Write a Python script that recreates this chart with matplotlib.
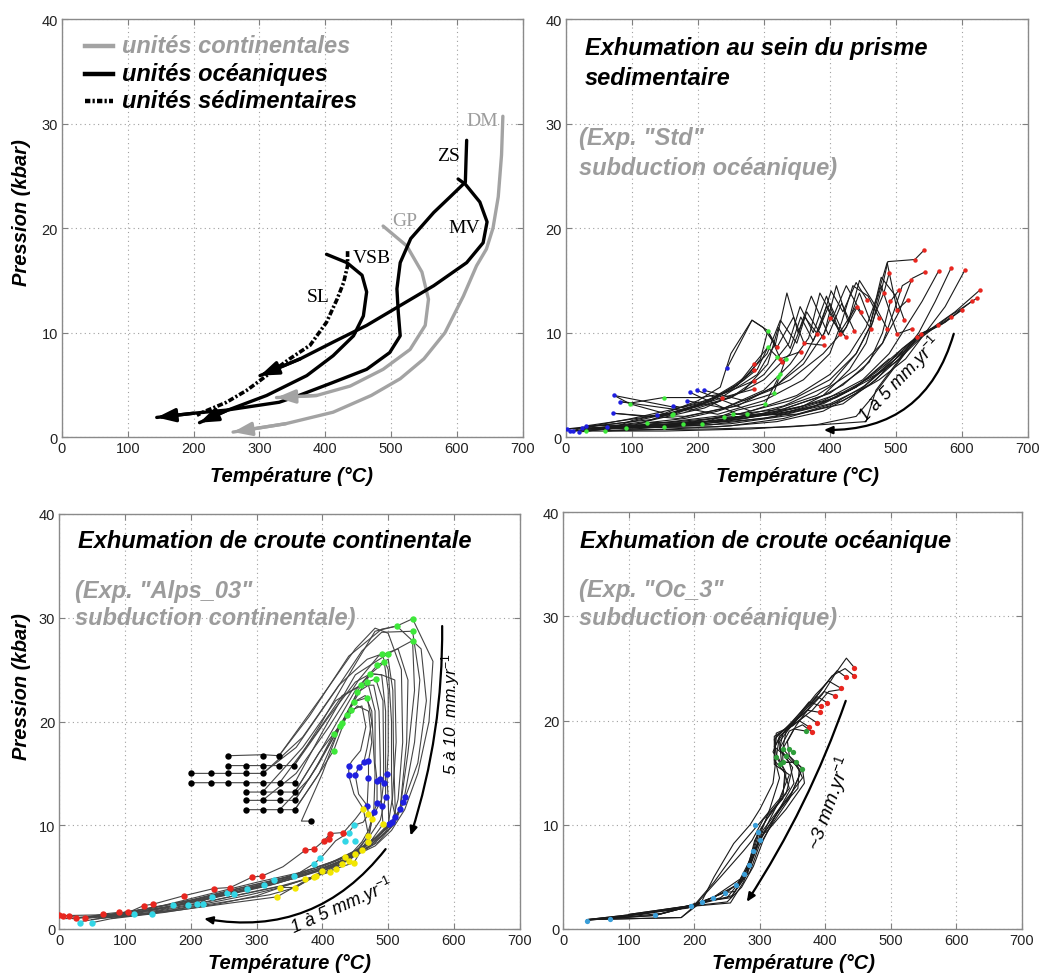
import matplotlib
matplotlib.use('Agg')
import matplotlib.pyplot as plt
from matplotlib.patches import FancyArrowPatch

plt.rcParams['font.family'] = ['Liberation Sans', 'DejaVu Sans']
plt.rcParams['mathtext.fontset'] = 'custom'
plt.rcParams['mathtext.rm'] = 'Liberation Sans'
plt.rcParams['mathtext.it'] = 'Liberation Sans:italic'

# ---------------- axes / ticks ----------------
x_ticks = [0, 100, 200, 300, 400, 500, 600, 700]
y_ticks = [0, 10, 20, 30, 40]

# ---------------- panel A : natural P-T paths ----------------
tl_DM_T = [670, 668, 663, 655, 645, 630, 610, 582, 550, 514, 470, 412, 340, 260]
tl_DM_P = [30.7, 27, 23, 20, 18, 16.4, 13.5, 10, 7.5, 5.6, 4.0, 2.4, 1.3, 0.5]
tl_GP_T = [488, 524, 547, 557, 552, 529, 488, 438, 387, 326]
tl_GP_P = [20.2, 18.3, 15.8, 13.2, 10.7, 8.4, 6.5, 4.9, 4.0, 3.8]
tl_ZS_T = [615, 614, 613, 590, 565, 530, 514, 509, 511, 514, 498, 463, 410, 360, 330, 250, 200, 144]
tl_ZS_P = [28.4, 26.5, 24.4, 23.0, 21.5, 19.0, 16.7, 14.2, 12.0, 9.7, 8.1, 6.5, 5.2, 4.0, 3.35, 2.6, 2.3, 1.9]
tl_MV_T = [602, 613, 635, 646, 640, 615, 565, 514, 463, 412, 362, 301]
tl_MV_P = [24.7, 24.2, 22.5, 20.6, 18.6, 16.7, 14.5, 12.6, 10.7, 9.1, 7.5, 5.9]
tl_SL_T = [402, 433, 456, 463, 458, 443, 412, 372, 311, 250, 209]
tl_SL_P = [17.5, 16.7, 15.5, 13.9, 11.6, 9.7, 7.8, 5.9, 4.0, 2.55, 1.4]
tl_VSB_T = [434, 434, 428, 418, 402, 377, 346, 311, 281, 250, 214, 205]
tl_VSB_P = [17.8, 16.4, 14.8, 13.2, 11.0, 8.8, 7.5, 5.9, 4.5, 3.35, 2.4, 2.1]
tl_labels = ['DM', 'ZS', 'GP', 'MV', 'VSB', 'SL']
tl_label_T = [638, 587, 521, 612, 471, 390]
tl_label_P = [30.3, 26.9, 20.7, 20.1, 17.2, 13.5]
tl_label_gray = [True, False, True, False, False, False]
legend_labels = ['unités continentales', 'unités océaniques', 'unités sédimentaires']

# ---------------- panel B : sedimentary prism ----------------
tr_paths = [
    [(543,17.9),(529,17.0),(488,16.8),(480,14.5),(465,11),(440,8),(400,5),(330,3),(250,1.8),(150,1.1),(30,0.8)],
    [(544,15.8),(525,15.2),(505,12),(480,9),(440,6.5),(380,4),(300,2.3),(200,1.4),(80,0.9),(6,0.6)],
    [(565,15.9),(540,13),(515,10.5),(490,8),(450,5.5),(390,3.5),(310,2.2),(210,1.3),(100,0.9),(11,0.6)],
    [(584,16.2),(560,13),(535,10),(505,7.5),(460,5),(400,3.2),(320,2),(220,1.2),(110,0.9),(24,0.9)],
    [(605,16.0),(575,12.5),(545,10),(515,7.5),(475,5.5),(420,3.5),(350,2.2),(250,1.3),(148,1.0)],
    [(628,14.1),(590,12),(545,10),(510,8),(470,6),(420,4.3),(350,2.8),(270,1.8),(178,1.3),(62,1.0)],
    [(623,13.3),(580,11.5),(540,9.6),(500,7.2),(460,5.5),(410,3.8),(340,2.5),(240,1.5),(123,1.4)],
    [(615,13.0),(575,11),(538,9.9),(500,7.5),(455,5),(400,3),(330,1.8),(250,1.1),(160,0.8),(59,0.6)],
    [(601,12.2),(570,10.8),(533,9.6),(505,8),(470,6.2),(430,4.5),(370,2.8),(300,1.8),(206,1.3),(31,1.1)],
    [(584,11.5),(560,10.5),(533,9.6),(505,8.2),(475,6.6),(440,4.8),(390,3.2),(320,2.2),(239,1.9),(150,1.4),(31,0.6)],
    [(564,10.7),(538,9.9),(510,8.5),(480,6.5),(440,4.2),(390,2.5),(320,1.5),(230,1.0),(91,0.9)],
    [(523,15.0),(510,14.5),(497,12),(480,9),(450,6.5),(400,4.2),(330,2.7),(254,2.2),(160,1.5),(19,0.5)],
    [(490,15.7),(482,13.8),(470,12),(455,9),(430,6.5),(390,4),(320,2.5),(230,1.6),(140,1.2),(1,0.8)],
    [(505,14.1),(492,13.0),(480,10),(460,7.2),(420,5),(360,3),(280,2),(190,1.3),(90,0.9)],
    [(518,13.1),(502,12.2),(487,16.7),(472,13.5),(455,10.5),(430,8),(400,6),(350,4),(280,2.5),(198,4.5)],
    [(513,11.2),(500,13.5),(478,15.3),(462,11),(445,13.8),(425,10.5),(390,8),(340,5.5),(270,3.5),(209,4.5)],
    [(525,10.4),(502,9.9),(478,14.5),(460,10.5),(440,8),(400,5.5),(340,3.5),(260,2.2),(188,4.3)],
    [(487,10.4),(465,13),(445,15),(428,11),(410,14.5),(392,10),(360,7),(310,4.5),(240,2.8),(183,3.5)],
    [(475,11.4),(458,13.5),(435,14.5),(418,11),(400,8),(360,5.5),(300,3.5),(230,2.2),(163,3.0)],
    [(457,13.1),(440,14.8),(420,12),(402,14),(385,10.5),(360,7.5),(320,5),(260,3),(180,2),(138,2.1)],
    [(447,12.0),(425,14.5),(405,11.5),(385,13.8),(368,9.5),(340,7),(300,4.5),(240,2.8),(170,1.8),(72,2.3)],
    [(462,10.4),(440,12.5),(415,10),(395,13.5),(375,10),(355,12.5),(338,9),(300,6),(250,3.8),(185,2.5),(82,3.4)],
    [(437,10.2),(418,12.8),(398,9.8),(372,13.5),(352,10),(335,13.8),(318,9),(290,6),(240,4),(170,2.8),(73,4.0)],
    [(442,12.5),(420,10),(400,12.8),(381,9.9),(362,11.5),(340,8),(300,5.5),(250,3.8),(180,2.6),(100,1.5),(24,0.9)],
    [(416,9.9),(395,12.5),(375,9.2),(356,11.5),(340,8.5),(322,10.5),(306,7),(270,4.5),(210,2.8),(120,1.5),(11,0.6)],
    [(424,9.6),(401,11.4),(389,9.6),(365,12),(350,9),(325,11.2),(305,8),(260,5),(200,3),(130,1.7),(1,0.8)],
    [(391,8.8),(361,9.0),(345,11.5),(320,8.6),(306,10.2),(295,7.5),(270,5.5),(220,3.5),(150,2.2),(31,1.1)],
    [(356,8.2),(325,7.5),(306,10.2),(299,10.5),(282,11.2),(244,6.6)],
    [(320,8.6),(299,10.5),(282,11.2),(250,8),(234,4.8),(200,3.5),(150,2.3),(100,1.6),(59,0.6)],
    [(328,7.2),(306,8.6),(285,7.0),(260,5),(220,3.5),(160,2.3),(91,0.9)],
    [(285,5.4),(240,4.2),(205,3.8),(148,3.8),(100,3.3),(82,3.4)],
    [(285,4.6),(237,3.8),(200,3.0),(160,2.3),(120,2.0),(72,2.3)],
    [(333,7.5),(315,4.2),(280,3.5),(230,2.5),(180,1.8),(123,1.4),(62,1.0)],
    [(325,6.1),(302,3.2),(260,2.6),(206,1.3),(148,1.0),(59,0.6)],
    [(533,9.6),(490,6),(460,3.5),(440,2),(380,1.2),(280,0.8),(150,0.6),(30,0.6)],
    [(538,9.9),(500,7),(470,4.5),(455,1.5),(340,1),(220,0.8),(90,0.7)],
    [(510,8.2),(470,5.5),(420,3.2),(350,2.2),(275,2.2),(254,2.2),(178,1.3),(100,1.0)],
    [(490,7.5),(440,4.8),(380,3),(320,2.2),(239,1.9),(160,1.3),(40,0.9)],
    [(285,6.4),(255,5),(210,3.3),(160,2.1),(97,3.2),(73,4.0)],
    [(306,8.6),(290,6.5),(250,4.5),(200,3.2),(150,2.5),(100,1.8),(50,1.2),(6,0.6)],
]
tr_red = [(543,17.9),(529,17.0),(544,15.8),(565,15.9),(584,16.2),(605,16.0),(628,14.1),(623,13.3),
          (615,13.0),(601,12.2),(584,11.5),(564,10.7),(538,9.9),(533,9.6),(490,15.7),(482,13.8),
          (492,13.0),(505,14.1),(518,13.1),(523,15.0),(502,12.2),(513,11.2),(525,10.4),(502,9.9),
          (487,10.4),(475,11.4),(457,13.1),(447,12.0),(462,10.4),(437,10.2),(442,12.5),(416,9.9),
          (424,9.6),(401,11.4),(381,9.9),(389,9.6),(391,8.8),(361,9.0),(356,8.2),(325,7.5),
          (320,8.6),(328,7.2),(285,7.0),(285,6.4),(285,5.4),(285,4.6),(237,3.8)]
tr_green = [(306,10.2),(306,8.6),(320,7.7),(333,7.5),(325,6.1),(322,5.8),(315,4.2),(302,3.2),
            (254,2.2),(275,2.2),(239,1.9),(206,1.3),(178,1.3),(148,1.0),(163,2.2),(160,2.1),
            (148,3.8),(123,1.4),(97,3.2),(91,0.9),(59,0.6),(31,0.6)]
tr_blue = [(1,0.8),(6,0.6),(11,0.6),(19,0.5),(24,0.9),(31,1.1),(62,1.0),(72,2.3),(73,4.0),
           (82,3.4),(138,2.1),(163,3.0),(183,3.5),(188,4.3),(198,4.5),(209,4.5),(244,6.6)]

# ---------------- panel C : continental crust ----------------
bl_paths = [
    [(256,16.7),(310,16.8),(334,16.7),(380,20.5),(440,26.3),(490,28.9),(513,29.2),(537,29.9),(568,25.8),(562,20),(545,15),(525,11.5),(505,9.5),(480,8),(440,6.8),(390,5.6),(330,4.6),(260,3.6),(190,2.6),(120,1.8),(60,1.2),(10,1.0)],
    [(257,15.75),(284,15.75),(310,15.75),(334,15.75),(357,15.75),(395,19.5),(445,25),(480,28.7),(513,29.2),(550,27),(558,22),(545,16),(526,12.7),(510,10.2),(485,8.4),(448,7.0),(400,5.9),(340,4.9),(270,3.9),(200,2.8),(130,1.9),(67,1.3),(20,1.0)],
    [(200,15.0),(231,15.0),(257,15.0),(284,15.0),(309,15.0),(360,17.5),(420,23),(460,26.8),(490,28.6),(537,28.7),(548,24),(540,18),(523,12.2),(506,9.9),(478,8.2),(440,6.9),(395,5.7),(335,4.6),(265,3.5),(196,2.5),(128,1.7),(60,1.1)],
    [(200,14.1),(231,14.1),(257,14.1),(284,14.1),(309,14.1),(335,14.1),(358,14.1),(400,19),(450,24.5),(499,26.5),(537,27.8),(540,23),(530,17),(518,11.6),(501,9.6),(470,7.9),(430,6.6),(387,5.5),(331,4.4),(260,3.4),(190,2.4),(120,1.6),(49,0.9)],
    [(284,13.2),(309,13.2),(335,13.2),(358,13.2),(400,17.5),(450,23),(483,25.4),(500,26),(507,23),(508,17),(511,10.8),(495,9.3),(465,7.7),(420,6.2),(374,5.2),(320,4.2),(250,3.2),(180,2.3),(105,1.5),(39,1.0)],
    [(284,12.4),(309,12.4),(335,12.4),(358,12.4),(395,16),(440,21.1),(473,24.6),(494,25.7),(500,23),(500,17),(498,14.9),(500,12.4),(501,10.1),(488,9.2),(460,7.6),(412,5.9),(359,4.9),(300,4.0),(232,3.1),(170,2.2),(100,1.4),(31,0.7)],
    [(284,11.5),(309,11.5),(335,11.5),(358,11.5),(390,14.5),(417,17.2),(437,20.6),(458,23.5),(478,23.5),(486,21),(488,16),(488,14.5),(490,11.9),(492,10.1),(475,8.6),(450,7.2),(412,5.5),(374,4.8),(336,4.0),(290,3.3),(219,2.4),(141,1.5),(60,1.0)],
    [(383,10.4),(368,10.4),(400,15),(427,19.6),(453,22.8),(470,23.5),(480,21),(480,16),(483,14.3),(483,12.1),(478,11.3),(470,9.0),(450,7.2),(400,5.6),(331,3.1),(260,2.5),(180,1.8),(100,1.2),(26,1.1)],
    [(335,14.1),(390,18.8),(430,22.5),(468,23.8),(481,24.1),(492,22),(493,16),(493,14.1),(490,12.5),(475,10.6),(470,9.5),(460,8.4),(430,6.3),(390,5.1),(340,4.2),(280,3.4),(210,2.4),(140,1.6),(70,1.1)],
    [(358,13.2),(395,17),(430,19.9),(448,21.9),(468,22.3),(475,20),(468,17.5),(463,16.1),(455,15.6),(450,14.8),(455,13),(468,11.9),(470,11.1),(462,10.3),(448,10.0),(440,9.3),(420,8.5),(397,6.8),(387,6.3),(357,5.1),(326,4.7),(311,4.2),(285,3.9),(265,3.4),(232,3.1),(209,2.4),(173,2.3),(141,1.45),(113,1.45),(49,0.6)],
    [(358,12.4),(390,15.5),(417,18.8),(443,21.1),(460,21.5),(466,19.5),(458,17.2),(445,16.2),(440,15.7),(440,14.8),(448,13),(462,11.6),(450,10.6),(432,9.3),(412,9.2),(402,8.5),(387,7.7),(374,7.6),(340,6.0),(308,5.1),(293,5.0),(260,4.0),(235,3.9),(189,3.2),(143,2.4),(128,2.25),(105,1.6),(90,1.6),(67,1.45),(39,1.1),(26,1.1),(14,1.3),(6,1.3),(0,1.35)],
    [(335,11.5),(380,14.5),(430,19.9),(453,21.5),(470,21),(475,18),(470,16.2),(470,14.6),(468,11.9),(462,11.6),(470,9),(455,7.8),(430,6.3),(400,5.6),(359,4.0),(336,4.0),(300,3.2),(240,2.4),(160,1.6),(80,1.0)],
    [(358,11.5),(395,15),(427,19.6),(448,21.9),(465,22.5),(475,21),(478,17),(480,15),(478,11.3),(475,10.6),(470,8.4),(460,7.6),(440,6.6),(400,5.6),(387,5.0),(359,4.0),(320,3.3),(250,2.6),(170,1.8),(90,1.2)],
    [(309,12.4),(360,15),(410,19.5),(455,24),(485,26.3),(515,27),(530,24),(528,18),(518,11.6),(505,10.3),(480,8.6),(445,7.2),(400,6.1),(345,5),(280,4),(210,2.9),(140,2.0),(70,1.3)],
    [(334,16.7),(400,22.5),(450,27),(480,29),(500,28.5),(520,25),(522,18),(515,12.5),(506,10.3),(490,9.2),(460,7.9),(420,6.6),(370,5.5),(300,4.5),(230,3.4),(160,2.3),(90,1.5),(26,1.1)],
    [(309,13.2),(370,17.5),(420,22),(458,23.5),(473,24.6),(490,24.5),(496,21),(496,13.5),(496,12.7),(488,10.5),(470,8.8),(448,6.4),(420,5.8),(390,5.1),(350,4.3),(290,3.5),(220,2.6),(150,1.8),(80,1.2)],
    [(310,15.0),(370,18.5),(425,23.5),(468,26),(490,26.5),(500,25),(505,20),(505,14.9),(506,12.5),(500,10.1),(480,8.8),(450,7.5),(412,6.4),(360,5.3),(300,4.2),(230,3.1),(160,2.1),(90,1.4),(14,1.3)],
    [(357,15.75),(410,20.5),(450,23.8),(473,24.6),(490,24.5),(510,24.0),(512,18),(506,12.2),(511,10.8),(500,9.8),(470,8.2),(435,6.9),(392,5.8),(348,4.9),(290,3.9),(220,2.8),(150,1.9),(80,1.3)],
]
bl_black = [(256,16.7),(310,16.7),(334,16.7),(257,15.75),(284,15.75),(310,15.75),(334,15.75),(357,15.75),
            (200,15.0),(231,15.0),(257,15.0),(284,15.0),(309,15.0),(200,14.1),(231,14.1),(257,14.1),
            (284,14.1),(309,14.1),(335,14.1),(358,14.1),(284,13.2),(309,13.2),(335,13.2),(358,13.2),
            (284,12.4),(309,12.4),(335,12.4),(358,12.4),(284,11.5),(309,11.5),(335,11.5),(358,11.5),(383,10.4)]
bl_green = [(537,29.9),(513,29.2),(537,28.7),(537,27.8),(490,26.5),(499,26.5),(494,25.7),(483,25.4),
            (473,24.6),(481,24.1),(468,23.8),(458,23.5),(453,22.8),(468,22.3),(448,21.9),(443,21.1),
            (437,20.6),(430,19.9),(427,19.6),(417,18.8),(417,17.2)]
bl_blue = [(440,15.7),(455,15.6),(463,16.1),(470,16.2),(440,14.8),(450,14.8),(470,14.6),(483,14.3),
           (488,14.5),(498,14.9),(493,14.1),(496,12.7),(490,11.9),(468,11.9),(483,12.1),(478,11.3),
           (526,12.7),(523,12.2),(518,11.6),(511,10.8),(506,10.3),(501,10.1)]
bl_yellow = [(462,11.6),(470,11.1),(475,10.6),(492,10.1),(470,9.0),(470,8.4),(460,7.6),(450,7.2),
             (440,6.6),(430,6.3),(420,5.8),(412,5.5),(400,5.6),(387,5.0),(374,4.8),(359,4.0),
             (336,4.0),(331,3.1),(390,5.1),(448,6.4),(435,6.9)]
bl_cyan = [(448,10.0),(440,9.3),(450,8.5),(435,8.5),(397,6.8),(387,6.3),(357,5.1),(326,4.7),
           (311,4.2),(285,3.9),(265,3.4),(255,3.5),(232,3.1),(219,2.4),(209,2.4),(196,2.3),
           (173,2.3),(141,1.45),(113,1.45),(49,0.6),(31,0.6)]
bl_red = [(0,1.35),(6,1.3),(14,1.3),(26,1.1),(39,1.1),(67,1.45),(90,1.6),(105,1.6),(128,2.25),
          (143,2.4),(189,3.2),(235,3.9),(260,4.0),(293,5.0),(308,5.1),(374,7.6),(387,7.7),
          (402,8.5),(410,8.7),(412,9.2),(432,9.3)]

# ---------------- panel D : oceanic crust ----------------
br_paths = [
    [(444,25.1),(432,26.0),(415,24.5),(395,22.5),(370,20.8),(345,19.6),(325,18.5),(322,16.5),(330,14.5),(315,11.5),(300,9),(290,7),(275,4.5),(255,2.5),(200,2.2),(120,1.4),(36,0.9)],
    [(444,24.3),(430,25),(410,24.3),(390,22.6),(365,21),(340,19.3),(322,18.2),(325,16.8),(340,15),(335,13),(315,10.5),(297,8),(282,5.5),(262,3.6),(246,3.5),(200,2.3),(140,1.3),(40,0.9)],
    [(431,24.2),(418,24.8),(400,23.5),(380,21.8),(355,20),(335,18.7),(330,17.3),(345,16),(352,14),(325,11),(305,8.5),(290,6),(272,4),(250,2.6),(195,2.2),(71,1.0)],
    [(424,23.1),(405,23.8),(385,22.5),(360,20.5),(340,19),(335,17.3),(350,16.2),(362,15),(345,12.5),(318,10),(299,8),(285,5.5),(264,4.2),(228,3.0),(180,2.0),(100,1.3),(36,0.8)],
    [(414,22.4),(398,22.8),(378,21.5),(355,19.5),(342,18),(345,16.6),(365,15.4),(368,14),(340,11.5),(310,9.3),(297,9.3),(289,7.5),(275,5),(250,3),(211,2.6),(180,1.1),(36,0.9)],
    [(403,21.7),(388,22.3),(368,21),(348,19.5),(330,18),(333,16),(355,16.0),(365,14.5),(335,12),(305,9.5),(284,6.1),(264,4.2),(246,3.5),(195,2.2),(140,1.3),(71,1.0)],
    [(393,21.4),(375,21.8),(358,20.5),(338,19),(322,17.5),(335,16.8),(350,15.5),(340,13),(310,10.5),(292,8.5),(282,6),(268,4.5),(240,3),(200,2.3),(100,1.4)],
    [(391,20.8),(372,21),(352,19.8),(330,18.5),(320,17),(335,15.5),(345,13.5),(320,11.5),(300,9.5),(288,7),(270,4.8),(228,3.0),(190,2.0),(36,0.9)],
    [(387,19.8),(370,20.5),(350,19.5),(325,18.8),(322,16.2),(338,15),(335,12.5),(305,10.5),(288,8.5),(275,7.5),(240,5),(200,2.2),(180,1.1),(40,0.9)],
    [(375,19.4),(360,20),(340,19.2),(322,18.5),(322,15.8),(345,14.8),(330,12.5),(300,10.2),(270,8),(230,4.5),(200,2.3),(120,1.5),(36,0.9)],
    [(380,18.9),(365,19.6),(345,19),(330,17.3),(340,16.6),(360,15.4),(358,13.5),(330,11.5),(305,9),(290,7.5),(278,5),(255,3.0),(211,2.6),(150,1.5),(71,1.0)],
    [(370,19.0),(352,19.2),(335,17.3),(335,16.0),(355,16.0),(365,15.4),(348,13),(318,10.3),(298,8.5),(287,6.5),(270,4.5),(258,3.2),(195,2.2),(140,1.3)],
    [(425,23),(405,22.8),(380,21),(355,19.8),(330,18.5),(325,16.5),(320,14),(300,11.5),(285,10),(260,8.2),(230,5),(210,2.5),(190,2.2),(100,1.4)],
]
br_red = [(444,25.1),(444,24.3),(431,24.2),(424,23.1),(414,22.4),(403,21.7),(393,21.4),(391,20.8),
          (387,19.8),(375,19.4),(380,18.9)]
br_green = [(335,17.3),(345,17.3),(335,16.0),(355,16.0),(365,15.4),(370,19.0),(340,16.6),(325,16.5),
            (330,15.8),(350,17.0)]
br_cyan = [(297,9.3),(289,7.5),(284,6.1),(264,4.2),(246,3.5),(228,3.0),(211,2.6),(195,2.2),(140,1.3),
           (71,1.0),(36,0.8),(300,8.5),(292,10),(276,5.3)]

# ---------------- figure ----------------
W, H = 1040, 979
fig = plt.figure(figsize=(10.4, 9.79), dpi=100)
GRAY_TXT = '#9c9c9c'
LINE_GRAY = '#a3a3a3'


def px_axes(l, t, r, b):
    return fig.add_axes([l / W, 1 - b / H, (r - l) / W, (b - t) / H])


def style(ax):
    ax.set_xlim(0, 700)
    ax.set_ylim(0, 40)
    ax.set_xticks(x_ticks)
    ax.set_yticks(y_ticks)
    ax.grid(True, linestyle=(0, (1, 3)), color='#a0a0a0', linewidth=0.8)
    ax.tick_params(direction='in', top=True, right=True, length=4, width=0.8,
                   color='#808080', labelsize=10.5, labelcolor='#222222', pad=3)
    for s in ax.spines.values():
        s.set_color('#8a8a8a')
        s.set_linewidth(1.0)
    ax.set_axisbelow(True)


def ftext(x, y, s, **kw):
    fig.text(x / W, 1 - y / H, s, **kw)


def draw_paths(ax, paths, color, lw):
    for p in paths:
        ax.plot([q[0] for q in p], [q[1] for q in p], color=color, lw=lw, zorder=2)


def draw_dots(ax, pts, color, ms):
    ax.plot([q[0] for q in pts], [q[1] for q in pts], 'o', color=color, ms=ms,
            mec=color, mew=0, zorder=3, ls='none')


def curved_arrow(ax, a, b, rad):
    arr = FancyArrowPatch(a, b, connectionstyle=f'arc3,rad={rad}',
                          arrowstyle='-|>,head_length=5,head_width=2.2', lw=1.6,
                          color='black', shrinkA=0, shrinkB=0, zorder=4)
    ax.add_patch(arr)


def path_arrow(ax, T, P, color, lw, ls='-', arrow=True):
    ax.plot(T, P, color=color, lw=lw, ls=ls, solid_capstyle='round', zorder=3)
    if arrow:
        ax.annotate('', xy=(T[-1], P[-1]), xytext=(T[-2], P[-2]),
                    arrowprops=dict(arrowstyle='-|>,head_length=0.55,head_width=0.2',
                                    color=color, lw=lw, shrinkA=0, shrinkB=0,
                                    mutation_scale=20), zorder=4)


TITLE = dict(fontsize=17, fontweight='bold', fontstyle='italic', va='center', ha='left')
XL = dict(fontsize=14.5, fontweight='bold', fontstyle='italic', ha='center', va='center')

# Panel A
axA = px_axes(62, 20, 522.6, 438.3)
style(axA)
path_arrow(axA, tl_DM_T, tl_DM_P, LINE_GRAY, 2.4)
path_arrow(axA, tl_GP_T, tl_GP_P, LINE_GRAY, 2.4)
path_arrow(axA, tl_VSB_T, tl_VSB_P, 'black', 2.6, ls=(0, (1.6, 0.6, 0.6, 0.6)), arrow=False)
path_arrow(axA, tl_SL_T, tl_SL_P, 'black', 2.4)
path_arrow(axA, tl_MV_T, tl_MV_P, 'black', 2.4)
path_arrow(axA, tl_ZS_T, tl_ZS_P, 'black', 2.4)
for lab, t, p, g in zip(tl_labels, tl_label_T, tl_label_P, tl_label_gray):
    axA.text(t, p, lab, family=['Liberation Serif'], fontsize=14,
             color=GRAY_TXT if g else 'black', ha='center', va='center', zorder=5)
leg_y = [46.7, 75.0, 101.7]
leg_col = [LINE_GRAY, 'black', 'black']
leg_ls = ['-', '-', (0, (1.2, 0.5, 0.5, 0.5))]
for lab, y, c, ls in zip(legend_labels, leg_y, leg_col, leg_ls):
    fig.add_artist(plt.Line2D([85 / W, 113 / W], [1 - y / H, 1 - y / H], color=c, lw=3.2, ls=ls))
    ftext(121.7, y, lab, color=(GRAY_TXT if c != 'black' else 'black'), **TITLE)
ftext(292, 476, 'Température (°C)', **XL)
ftext(22, 213, 'Pression (kbar)', rotation=90, **XL)

# Panel B
axB = px_axes(566, 20, 1027.6, 438.3)
style(axB)
draw_paths(axB, tr_paths, '#1a1a1a', 0.8)
draw_dots(axB, tr_red, '#e8261f', 3.2)
draw_dots(axB, tr_green, '#3ee83a', 3.2)
draw_dots(axB, tr_blue, '#1f1fe0', 3.2)
curved_arrow(axB, (588, 9.9), (391, 0.7), -0.38)
axB.text(506, 5.6, r'1 à 5 mm.yr$^{-1}$', rotation=46, fontsize=13, fontstyle='italic',
         ha='center', va='center', rotation_mode='anchor')
ftext(585, 48.3, 'Exhumation au sein du prisme', color='black', **TITLE)
ftext(585, 78.3, 'sedimentaire', color='black', **TITLE)
ftext(579, 138.3, '(Exp. "Std"', color=GRAY_TXT, **TITLE)
ftext(579, 168.3, 'subduction océanique)', color=GRAY_TXT, **TITLE)
ftext(797, 476, 'Température (°C)', **XL)

# Panel C
axC = px_axes(59.3, 515, 519.8, 930)
style(axC)
draw_paths(axC, bl_paths, '#454545', 0.8)
draw_dots(axC, bl_black, 'black', 4.6)
draw_dots(axC, bl_green, '#3ee83a', 4.6)
draw_dots(axC, bl_blue, '#1f1fe0', 4.6)
draw_dots(axC, bl_yellow, '#f2e600', 4.6)
draw_dots(axC, bl_cyan, '#33d6e6', 4.6)
draw_dots(axC, bl_red, '#e8261f', 4.6)
curved_arrow(axC, (582, 29.2), (534, 9.0), -0.08)
curved_arrow(axC, (496, 7.7), (220, 1.0), -0.3)
axC.text(594, 20.8, r'5 à 10  mm.yr$^{-1}$', rotation=90, fontsize=12.5, fontstyle='italic',
         ha='center', va='center', rotation_mode='anchor')
axC.text(430, 2.3, r'1 à 5 mm.yr$^{-1}$', rotation=24, fontsize=13, fontstyle='italic',
         ha='center', va='center', rotation_mode='anchor')
ftext(78, 541.7, 'Exhumation de croute continentale', color='black', **TITLE)
ftext(75, 591.7, '(Exp. "Alps_03"', color=GRAY_TXT, **TITLE)
ftext(75, 618.3, 'subduction continentale)', color=GRAY_TXT, **TITLE)
ftext(289, 964, 'Température (°C)', **XL)
ftext(22, 687, 'Pression (kbar)', rotation=90, **XL)

# Panel D
axD = px_axes(563.3, 513.3, 1022, 930)
style(axD)
draw_paths(axD, br_paths, '#1a1a1a', 0.8)
draw_dots(axD, br_red, '#e8261f', 3.8)
draw_dots(axD, br_green, '#2f9e3b', 3.8)
draw_dots(axD, br_cyan, '#3a9ed8', 3.8)
curved_arrow(axD, (431, 21.9), (280, 2.6), -0.06)
axD.text(406, 12.2, r'~3 mm.yr$^{-1}$', rotation=70, fontsize=14, fontstyle='italic',
         ha='center', va='center', rotation_mode='anchor')
ftext(580, 541.7, 'Exhumation de croute océanique', color='black', **TITLE)
ftext(579, 590, '(Exp. "Oc_3"', color=GRAY_TXT, **TITLE)
ftext(579, 618.3, 'subduction océanique)', color=GRAY_TXT, **TITLE)
ftext(793, 964, 'Température (°C)', **XL)

fig.savefig('out.png', dpi=100)
